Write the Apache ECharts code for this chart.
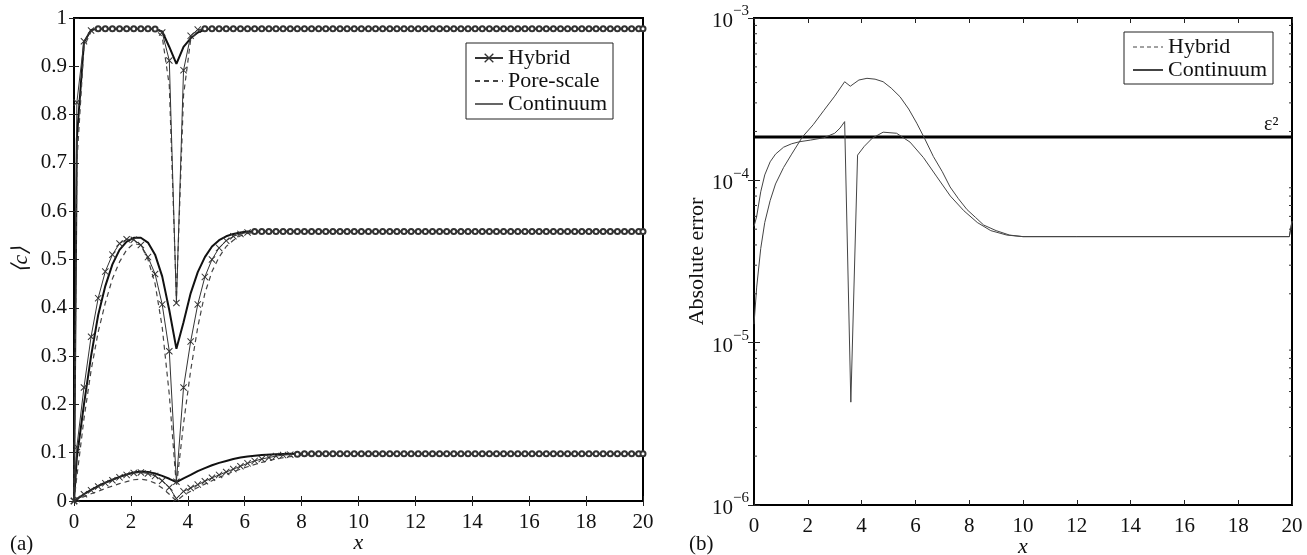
<!DOCTYPE html>
<html>
<head>
<meta charset="UTF-8">
<title>Hybrid / Pore-scale / Continuum</title>
<script src="https://cdn.jsdelivr.net/npm/echarts@6/dist/echarts.min.js"></script>
<style>
  body { margin: 0; background: #fff; }
  #container { width: 1307px; height: 555px; }
</style>
</head>
<body>
<div id="container"></div>
<script>
// ---- (a) averaged concentration <c> vs x, three levels ----
// hybrid samples (marker positions)
var hybX = [
  0, 0.1, 0.35, 0.6, 0.85, 1.1, 1.35, 1.6, 1.85, 2.1,
  2.35, 2.6, 2.85, 3.1, 3.35, 3.6, 3.85, 4.1, 4.35, 4.6,
  4.85, 5.1, 5.35, 5.6, 5.85, 6.1, 6.35, 6.6, 6.85, 7.1,
  7.35, 7.6, 7.85, 8.1, 8.35, 8.6, 8.85, 9.1, 9.35, 9.6,
  9.85, 10.1, 10.35, 10.6, 10.85, 11.1, 11.35, 11.6, 11.85, 12.1,
  12.35, 12.6, 12.85, 13.1, 13.35, 13.6, 13.85, 14.1, 14.35, 14.6,
  14.85, 15.1, 15.35, 15.6, 15.85, 16.1, 16.35, 16.6, 16.85, 17.1,
  17.35, 17.6, 17.85, 18.1, 18.35, 18.6, 18.85, 19.1, 19.35, 19.6,
  19.85, 20
];
var hybTop = [
  0, 0.825, 0.952, 0.974, 0.978, 0.978, 0.978, 0.978, 0.978, 0.978,
  0.978, 0.978, 0.977, 0.970, 0.912, 0.410, 0.892, 0.963, 0.976, 0.978,
  0.978, 0.978, 0.978, 0.978, 0.978, 0.978, 0.978, 0.978, 0.978, 0.978,
  0.978, 0.978, 0.978, 0.978, 0.978, 0.978, 0.978, 0.978, 0.978, 0.978,
  0.978, 0.978, 0.978, 0.978, 0.978, 0.978, 0.978, 0.978, 0.978, 0.978,
  0.978, 0.978, 0.978, 0.978, 0.978, 0.978, 0.978, 0.978, 0.978, 0.978,
  0.978, 0.978, 0.978, 0.978, 0.978, 0.978, 0.978, 0.978, 0.978, 0.978,
  0.978, 0.978, 0.978, 0.978, 0.978, 0.978, 0.978, 0.978, 0.978, 0.978,
  0.978, 0.978
];
var hybMid = [
  0, 0.112, 0.235, 0.340, 0.420, 0.475, 0.510, 0.533, 0.542, 0.541,
  0.530, 0.505, 0.470, 0.407, 0.310, 0.040, 0.235, 0.330, 0.407, 0.464,
  0.500, 0.524, 0.539, 0.548, 0.553, 0.556, 0.558, 0.558, 0.558, 0.558,
  0.558, 0.558, 0.558, 0.558, 0.558, 0.558, 0.558, 0.558, 0.558, 0.558,
  0.558, 0.558, 0.558, 0.558, 0.558, 0.558, 0.558, 0.558, 0.558, 0.558,
  0.558, 0.558, 0.558, 0.558, 0.558, 0.558, 0.558, 0.558, 0.558, 0.558,
  0.558, 0.558, 0.558, 0.558, 0.558, 0.558, 0.558, 0.558, 0.558, 0.558,
  0.558, 0.558, 0.558, 0.558, 0.558, 0.558, 0.558, 0.558, 0.558, 0.558,
  0.558, 0.558
];
var hybLow = [
  0, 0.004, 0.014, 0.022, 0.030, 0.037, 0.043, 0.049, 0.054, 0.058,
  0.059, 0.057, 0.052, 0.042, 0.028, 0.005, 0.020, 0.027, 0.034, 0.041,
  0.048, 0.054, 0.060, 0.066, 0.072, 0.078, 0.083, 0.087, 0.090, 0.093,
  0.095, 0.096, 0.097, 0.098, 0.098, 0.098, 0.098, 0.098, 0.098, 0.098,
  0.098, 0.098, 0.098, 0.098, 0.098, 0.098, 0.098, 0.098, 0.098, 0.098,
  0.098, 0.098, 0.098, 0.098, 0.098, 0.098, 0.098, 0.098, 0.098, 0.098,
  0.098, 0.098, 0.098, 0.098, 0.098, 0.098, 0.098, 0.098, 0.098, 0.098,
  0.098, 0.098, 0.098, 0.098, 0.098, 0.098, 0.098, 0.098, 0.098, 0.098,
  0.098, 0.098
];

// pore-scale and continuum curves (no markers)
var lineX = [
  0, 0.1, 0.35, 0.6, 0.85, 1.1, 1.35, 1.6, 1.85, 2.1,
  2.35, 2.6, 2.85, 3.1, 3.35, 3.6, 3.85, 4.1, 4.35, 4.6,
  4.85, 5.1, 5.35, 5.6, 5.85, 6.1, 6.6, 7.1, 7.6, 8.1,
  8.6, 9.1, 20
];
var poreTop = [
  0, 0.70, 0.940, 0.972, 0.978, 0.978, 0.978, 0.978, 0.978, 0.978,
  0.978, 0.978, 0.976, 0.962, 0.860, 0.420, 0.840, 0.955, 0.974, 0.978,
  0.978, 0.978, 0.978, 0.978, 0.978, 0.978, 0.978, 0.978, 0.978, 0.978,
  0.978, 0.978, 0.978
];
var poreMid = [
  0, 0.050, 0.170, 0.270, 0.350, 0.410, 0.460, 0.495, 0.520, 0.533,
  0.530, 0.500, 0.450, 0.360, 0.220, 0.030, 0.160, 0.270, 0.360, 0.430,
  0.475, 0.505, 0.527, 0.540, 0.549, 0.554, 0.558, 0.558, 0.558, 0.558,
  0.558, 0.558, 0.558
];
var poreLow = [
  0, 0.003, 0.009, 0.015, 0.020, 0.026, 0.031, 0.036, 0.040, 0.044,
  0.045, 0.043, 0.037, 0.027, 0.014, 0.000, 0.012, 0.020, 0.028, 0.035,
  0.042, 0.049, 0.055, 0.061, 0.066, 0.071, 0.080, 0.087, 0.092, 0.095,
  0.097, 0.098, 0.098
];
var contTop = [
  0, 0.750, 0.950, 0.975, 0.978, 0.978, 0.978, 0.978, 0.978, 0.978,
  0.978, 0.978, 0.977, 0.972, 0.940, 0.905, 0.940, 0.958, 0.970, 0.976,
  0.978, 0.978, 0.978, 0.978, 0.978, 0.978, 0.978, 0.978, 0.978, 0.978,
  0.978, 0.978, 0.978
];
var contMid = [
  0, 0.090, 0.200, 0.300, 0.385, 0.445, 0.490, 0.520, 0.537, 0.545,
  0.545, 0.535, 0.510, 0.465, 0.395, 0.315, 0.370, 0.430, 0.474, 0.505,
  0.527, 0.540, 0.548, 0.553, 0.556, 0.558, 0.558, 0.558, 0.558, 0.558,
  0.558, 0.558, 0.558
];
var contLow = [
  0, 0.004, 0.014, 0.023, 0.031, 0.038, 0.044, 0.050, 0.055, 0.059,
  0.061, 0.060, 0.057, 0.052, 0.046, 0.039, 0.047, 0.054, 0.062, 0.068,
  0.074, 0.079, 0.083, 0.087, 0.090, 0.092, 0.095, 0.097, 0.098, 0.098,
  0.098, 0.098, 0.098
];

// ---- (b) absolute error vs x (log scale) ----
var hybErrX = [0, 0.1, 0.25, 0.4, 0.6, 0.8, 1.1, 1.4, 1.7, 2.1, 2.6, 3.0, 3.2, 3.37, 3.6, 3.85,
  4.1, 4.4, 4.8, 5.3, 5.8, 6.3, 6.8, 7.3, 7.8, 8.3, 8.8, 9.4, 10, 12, 19.9, 20];
var hybErr = [5.2e-5, 6.0e-5, 8.5e-5, 1.08e-4, 1.3e-4, 1.45e-4, 1.6e-4, 1.68e-4, 1.73e-4, 1.77e-4,
  1.83e-4, 1.95e-4, 2.1e-4, 2.3e-4, 4.3e-6, 1.43e-4, 1.62e-4, 1.82e-4, 1.98e-4, 1.95e-4,
  1.72e-4, 1.38e-4, 1.05e-4, 8.0e-5, 6.5e-5, 5.5e-5, 4.9e-5, 4.6e-5, 4.5e-5, 4.5e-5, 4.5e-5, 5.6e-5];
var contErrX = [0, 0.1, 0.25, 0.4, 0.6, 0.8, 1.1, 1.4, 1.8, 2.2, 2.6, 3.0, 3.37, 3.58, 3.9, 4.2,
  4.5, 4.8, 5.1, 5.43, 5.75, 6.05, 6.35, 6.67, 7.0, 7.29, 7.6, 7.92, 8.24, 8.54, 9.0, 9.5, 10, 12, 19.9, 20];
var contErr = [1.3e-5, 2.2e-5, 3.8e-5, 5.5e-5, 7.5e-5, 9.5e-5, 1.2e-4, 1.45e-4, 1.85e-4, 2.2e-4,
  2.7e-4, 3.3e-4, 4.05e-4, 3.8e-4, 4.15e-4, 4.25e-4, 4.2e-4, 4.05e-4, 3.7e-4, 3.27e-4,
  2.75e-4, 2.25e-4, 1.8e-4, 1.4e-4, 1.13e-4, 9.1e-5, 7.7e-5, 6.6e-5, 5.9e-5, 5.3e-5,
  4.9e-5, 4.6e-5, 4.5e-5, 4.5e-5, 4.5e-5, 5.6e-5];
var epsSq = 1.85e-4;
// minor ticks of the log axis
var logMinor = [2e-6, 3e-6, 4e-6, 5e-6, 6e-6, 7e-6, 8e-6, 9e-6,
  2e-5, 3e-5, 4e-5, 5e-5, 6e-5, 7e-5, 8e-5, 9e-5,
  2e-4, 3e-4, 4e-4, 5e-4, 6e-4, 7e-4, 8e-4, 9e-4];

var xTicks = { min: 0, max: 20, interval: 2 };
var serif = 'Liberation Serif';
var xMark = 'path://M0,1L1,0L5,4L9,0L10,1L6,5L10,9L9,10L5,6L1,10L0,9L4,5Z';

function pairs(xs, ys) {
  return xs.map(function (x, i) { return [x, ys[i]]; });
}
// hybrid points: x markers, little circles once the curve sits on its plateau
function hybData(ys) {
  var last = ys[ys.length - 1];
  return hybX.map(function (x, i) {
    var item = { value: [x, ys[i]] };
    if (i > 2 && Math.abs(ys[i] - last) < 0.0015) {
      item.symbol = 'emptyCircle';
      item.symbolSize = 5;
    }
    return item;
  });
}

function xAxisOf(grid, top) {
  return {
    gridIndex: grid, type: 'value', min: xTicks.min, max: xTicks.max, interval: xTicks.interval,
    position: top ? 'top' : 'bottom',
    axisLine: { show: true, lineStyle: { color: '#000', width: 2 } },
    axisTick: { show: true, inside: true, length: 5, lineStyle: { color: '#222' } },
    axisLabel: { show: !top, fontFamily: serif, fontSize: 21, color: '#111', margin: 11 },
    splitLine: { show: false },
    name: top ? '' : 'x', nameLocation: 'middle', nameGap: 31, nameMoveOverlap: false,
    nameTextStyle: { fontFamily: serif, fontStyle: 'italic', fontSize: 22, color: '#111' }
  };
}

var mychart = echarts.init(document.getElementById('container'));

var hybStyle = {
  type: 'line', xAxisIndex: 0, yAxisIndex: 0, name: 'Hybrid', symbol: xMark, symbolSize: 7,
  showSymbol: true, itemStyle: { color: '#333' }, lineStyle: { color: '#333', width: 1 }, z: 4
};
var poreStyle = {
  type: 'line', xAxisIndex: 0, yAxisIndex: 0, name: 'Pore-scale', showSymbol: false, symbol: 'none',
  itemStyle: { color: '#444' }, lineStyle: { color: '#444', width: 1.2, type: [5, 4] }, z: 3
};
var contStyle = {
  type: 'line', xAxisIndex: 0, yAxisIndex: 0, name: 'Continuum', showSymbol: false, symbol: 'none',
  itemStyle: { color: '#111' }, lineStyle: { color: '#111', width: 2 }, z: 2
};
function withData(base, data) {
  return Object.assign({}, base, { data: data });
}
var noMark = { opacity: 0 };

var option = {
  animation: false,
  backgroundColor: '#fff',
  grid: [
    { left: 74, right: 664, top: 18, bottom: 54, outerBoundsMode: 'none', containLabel: false,
      show: true, borderColor: '#000', borderWidth: 2 },
    { left: 754, right: 15, top: 18, bottom: 50, outerBoundsMode: 'none', containLabel: false,
      show: true, borderColor: '#000', borderWidth: 2 }
  ],
  legend: [
    {
      data: [
        { name: 'Hybrid' },
        { name: 'Pore-scale', itemStyle: noMark },
        { name: 'Continuum', itemStyle: noMark, lineStyle: { width: 1.3 } }
      ],
      orient: 'vertical', left: 466, top: 43,
      itemGap: 1, itemWidth: 28, itemHeight: 12, padding: [4, 6, 4, 8],
      borderColor: '#222', borderWidth: 1, backgroundColor: '#fff',
      textStyle: { fontFamily: serif, fontSize: 22, color: '#111' }
    },
    {
      data: [
        { name: 'Hybrid\u200b', itemStyle: noMark, lineStyle: { type: [4, 3], width: 1 } },
        { name: 'Continuum\u200b', itemStyle: noMark }
      ],
      orient: 'vertical', left: 1124, top: 32,
      itemGap: 1, itemWidth: 30, itemHeight: 12, padding: [4, 6, 3, 8],
      borderColor: '#222', borderWidth: 1, backgroundColor: '#fff',
      formatter: function (n) { return n.replace(/\u200b/g, ''); },
      textStyle: { fontFamily: serif, fontSize: 22, color: '#111' }
    }
  ],
  xAxis: [xAxisOf(0, false), xAxisOf(0, true), xAxisOf(1, false), xAxisOf(1, true)],
  yAxis: [
    {
      gridIndex: 0, type: 'value', min: 0, max: 1, interval: 0.1,
      axisLine: { show: true, lineStyle: { color: '#000', width: 2 } },
      axisTick: { show: true, inside: true, length: 5, lineStyle: { color: '#222' } },
      axisLabel: { fontFamily: serif, fontSize: 21, color: '#111', margin: 7 },
      splitLine: { show: false },
      name: '\u27E8c\u27E9', nameLocation: 'middle', nameGap: 42, nameRotate: 90,
      nameTextStyle: { fontFamily: serif, fontStyle: 'italic', fontSize: 22, color: '#111' }
    },
    {
      gridIndex: 0, type: 'value', min: 0, max: 1, interval: 0.1, position: 'right',
      axisLine: { show: true, lineStyle: { color: '#000', width: 2 } },
      axisTick: { show: true, inside: true, length: 5, lineStyle: { color: '#222' } },
      axisLabel: { show: false }, splitLine: { show: false }
    },
    {
      gridIndex: 1, type: 'log', logBase: 10, min: 1e-6, max: 1e-3,
      axisLine: { show: true, lineStyle: { color: '#000', width: 2 } },
      axisTick: { show: true, inside: true, length: 6, lineStyle: { color: '#222' } },
      axisLabel: {
        margin: 5, color: '#111',
        formatter: function (v) {
          var e = Math.round(Math.log10(v));
          return '{b|10}{s|' + (e < 0 ? '\u2212' : '') + Math.abs(e) + '}';
        },
        rich: {
          b: { fontFamily: serif, fontSize: 21, color: '#111', lineHeight: 28, verticalAlign: 'bottom' },
          s: { fontFamily: serif, fontSize: 15, color: '#111', lineHeight: 28, verticalAlign: 'top', padding: [0, 0, 14, 0] }
        }
      },
      splitLine: { show: false },
      name: 'Absolute error', nameLocation: 'middle', nameGap: 45, nameRotate: 90,
      nameTextStyle: { fontFamily: serif, fontSize: 22, color: '#111' }
    },
    {
      gridIndex: 1, type: 'log', logBase: 10, min: 1e-6, max: 1e-3, position: 'right',
      axisLine: { show: true, lineStyle: { color: '#000', width: 2 } },
      axisTick: { show: true, inside: true, length: 6, lineStyle: { color: '#222' } },
      axisLabel: { show: false }, splitLine: { show: false }
    }
  ],
  series: [
    withData(contStyle, pairs(lineX, contTop)),
    withData(contStyle, pairs(lineX, contMid)),
    withData(contStyle, pairs(lineX, contLow)),
    withData(poreStyle, pairs(lineX, poreTop)),
    withData(poreStyle, pairs(lineX, poreMid)),
    withData(poreStyle, pairs(lineX, poreLow)),
    withData(hybStyle, hybData(hybTop)),
    withData(hybStyle, hybData(hybMid)),
    withData(hybStyle, hybData(hybLow)),
    {
      type: 'line', name: 'Hybrid\u200b', xAxisIndex: 2, yAxisIndex: 2, showSymbol: false, symbol: 'none',
      itemStyle: { color: '#444' }, lineStyle: { color: '#444', width: 1 },
      data: pairs(hybErrX, hybErr)
    },
    {
      type: 'line', name: 'Continuum\u200b', xAxisIndex: 2, yAxisIndex: 2, showSymbol: false, symbol: 'none',
      itemStyle: { color: '#444' }, lineStyle: { color: '#444', width: 1 },
      data: pairs(contErrX, contErr)
    },
    {
      // epsilon^2 threshold
      type: 'line', name: 'eps', xAxisIndex: 2, yAxisIndex: 2, showSymbol: false, symbol: 'none',
      lineStyle: { color: '#000', width: 3 }, z: 1,
      data: [[xTicks.min, epsSq], [xTicks.max, epsSq]],
      endLabel: {
        show: true, formatter: '\u03B5\u00B2', offset: [-36, -12],
        fontFamily: serif, fontSize: 20, color: '#111'
      }
    },
    {
      // minor ticks on both sides of the log axis
      type: 'custom', xAxisIndex: 2, yAxisIndex: 2, silent: true, z: 5,
      data: logMinor.map(function (v) { return [xTicks.min, v]; }),
      renderItem: function (params, api) {
        var p0 = api.coord([xTicks.min, api.value(1)]);
        var p1 = api.coord([xTicks.max, api.value(1)]);
        var st = { stroke: '#333', lineWidth: 1 };
        return {
          type: 'group',
          children: [
            { type: 'line', shape: { x1: p0[0], y1: p0[1], x2: p0[0] + 3, y2: p0[1] }, style: st },
            { type: 'line', shape: { x1: p1[0], y1: p1[1], x2: p1[0] - 3, y2: p1[1] }, style: st }
          ]
        };
      }
    }
  ],
  graphic: [
    { type: 'text', left: 10, top: 534, style: { text: '(a)', fontFamily: serif, fontSize: 21, fill: '#111' } },
    { type: 'text', left: 689, top: 534, style: { text: '(b)', fontFamily: serif, fontSize: 21, fill: '#111' } }
  ]
};

mychart.setOption(option);
</script>
</body>
</html>
